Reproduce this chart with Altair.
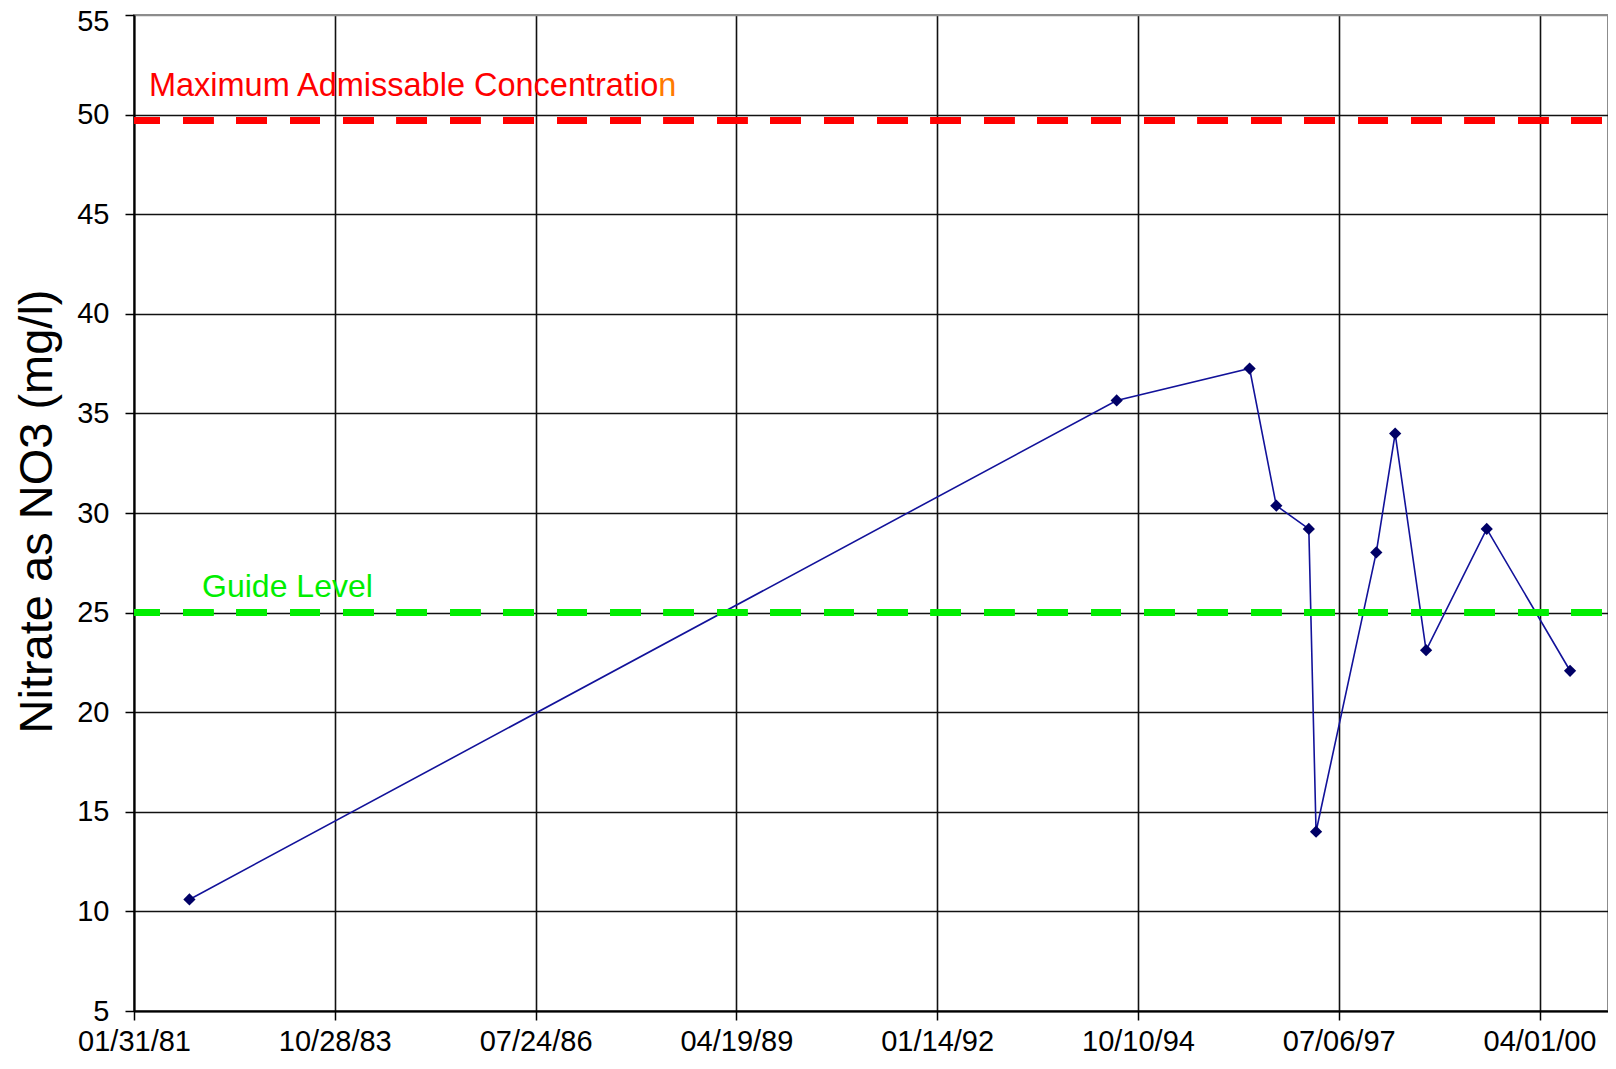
import altair as alt
import pandas as pd

# ---- data ----
sample_dates = ["1981-11-03", "1994-06-26", "1996-04-18", "1996-08-29", "1997-02-07",
                "1997-03-15", "1998-01-09", "1998-04-13", "1998-09-14", "1999-07-13",
                "2000-08-31"]
nitrate = [10.6, 35.65, 37.25, 30.37, 29.2, 14.0, 28.02, 33.99, 23.11, 29.2, 22.08]

x_ticks = ["1981-01-31", "1983-10-28", "1986-07-24", "1989-04-19",
           "1992-01-14", "1994-10-10", "1997-07-06", "2000-04-01"]
x_domain = ["1981-01-31", "2001-03-08"]
y_ticks = [5, 10, 15, 20, 25, 30, 35, 40, 45, 50, 55]

mac_value = 49.7
guide_value = 25

# annotation labels (text, anchor date, anchor value)
mac_text_main = ["Maximum Admissable Concentratio"]
mac_text_tail = ["n"]
mac_anchor_date = ["1988-03-26"]
mac_anchor_value = [50.93]
guide_text = ["Guide Level"]
guide_anchor_date = ["1982-01-05"]
guide_anchor_value = [25.8]

FONT = "Liberation Sans"


def dt(s):
    y, m, d = (int(p) for p in s.split("-"))
    return alt.DateTime(year=y, month=m, date=d, utc=True)


df = pd.DataFrame({"date": sample_dates, "nitrate": nitrate})
mac_main_df = pd.DataFrame({"date": mac_anchor_date, "value": mac_anchor_value, "label": mac_text_main})
mac_tail_df = pd.DataFrame({"date": mac_anchor_date, "value": mac_anchor_value, "label": mac_text_tail})
guide_df = pd.DataFrame({"date": guide_anchor_date, "value": guide_anchor_value, "label": guide_text})

x_enc = alt.X(
    "date:T",
    title=None,
    scale=alt.Scale(type="utc", domain=[dt(s) for s in x_domain], nice=False),
    axis=alt.Axis(
        values=[dt(s) for s in x_ticks],
        format="%m/%d/%y",
        labelFlush=False,
        labelPadding=7,
        labelOverlap=False,
        tickSize=9,
        gridColor="#111111",
    ),
)

y_scale = alt.Scale(domain=[5, 55], nice=False, zero=False)
y_enc = alt.Y(
    "nitrate:Q",
    scale=y_scale,
    axis=alt.Axis(
        values=y_ticks,
        title="Nitrate as NO3 (mg/l)",
        titleX=-73,
        titleY=496,
        titleAngle=270,
        titleAlign="center",
        titleBaseline="bottom",
        titleFontSize=47,
        titleFontWeight="normal",
        titleFont=FONT,
        titleColor="black",
        labelPadding=16,
        labelFlush=False,
        labelOffset=alt.condition("datum.value == 55", alt.value(6), alt.value(0)),
        tickSize=9,
        gridColor=alt.condition("datum.value == 55", alt.value("#8c8c8c"), alt.value("#111111")),
    ),
)

series_line = alt.Chart(df).mark_line(color="#12129a", strokeWidth=1.6).encode(x=x_enc, y=y_enc)
series_pts = alt.Chart(df).mark_point(
    shape="diamond", filled=True, size=150, color="#000066", opacity=1
).encode(x="date:T", y="nitrate:Q")

mac_rule = alt.Chart(df).mark_rule(
    color="#FF0000", strokeWidth=7, strokeDash=[30, 23.4], strokeDashOffset=47
).encode(y=alt.datum(mac_value))

guide_rule = alt.Chart(df).mark_rule(
    color="#00EE00", strokeWidth=6.5, strokeDash=[30, 23.4], strokeDashOffset=47
).encode(y=alt.datum(guide_value))

mac_main = alt.Chart(mac_main_df).mark_text(
    align="right", baseline="alphabetic", font=FONT, fontSize=32.5, color="#FF0000"
).encode(x="date:T", y="value:Q", text="label:N")

mac_tail = alt.Chart(mac_tail_df).mark_text(
    align="left", baseline="alphabetic", font=FONT, fontSize=32.5, color="#FF7A00"
).encode(x="date:T", y="value:Q", text="label:N")

guide_lbl = alt.Chart(guide_df).mark_text(
    align="left", baseline="alphabetic", font=FONT, fontSize=32, color="#00EE00"
).encode(x="date:T", y="value:Q", text="label:N")

chart = alt.layer(
    series_line, series_pts, mac_rule, guide_rule, mac_main, mac_tail, guide_lbl
).properties(
    width=1474,
    height=996,
    autosize=alt.AutoSizeParams(type="none"),
    padding={"left": 126, "top": 7, "right": 0, "bottom": 44},
    background="white",
).configure_view(
    stroke="#8c8c8c", strokeWidth=2
).configure_axis(
    grid=True,
    gridWidth=1.6,
    domainColor="black",
    domainWidth=2,
    tickColor="black",
    tickWidth=1.5,
    labelFont=FONT,
    labelFontSize=29,
    labelColor="black",
)

chart.save("out.html", embed_options={"renderer": "svg", "actions": False})
